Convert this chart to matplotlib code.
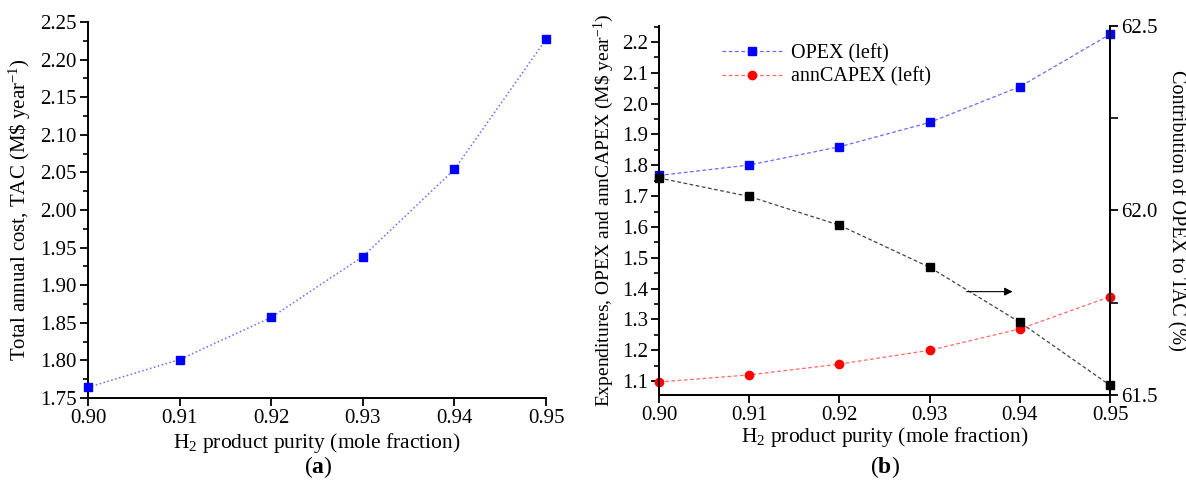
import numpy as np
import matplotlib.pyplot as plt
from matplotlib.ticker import MultipleLocator

plt.rcParams['font.family'] = ['Liberation Serif', 'DejaVu Serif']
plt.rcParams['mathtext.fontset'] = 'custom'
plt.rcParams['mathtext.rm'] = 'Liberation Serif'
plt.rcParams['mathtext.it'] = 'Liberation Serif:italic'
plt.rcParams['mathtext.bf'] = 'Liberation Serif:bold'

# data
purity = [0.90, 0.91, 0.92, 0.93, 0.94, 0.95]
tac = [1.764, 1.801, 1.857, 1.938, 2.054, 2.227]
opex = [1.767, 1.801, 1.860, 1.939, 2.055, 2.225]
ann_capex = [1.097, 1.120, 1.155, 1.200, 1.269, 1.374]
opex_share = [62.088, 62.038, 61.960, 61.846, 61.697, 61.526]


def style_axis(ax):
    ax.tick_params(direction='out', width=1.3, length=6, labelsize=15, pad=2)
    ax.tick_params(which='minor', direction='out', width=1.2, length=3.5)
    for s in ax.spines.values():
        s.set_linewidth(1.4)


fig = plt.figure(figsize=(11.86, 4.90), dpi=100)

# (a) total annual cost
ax1 = fig.add_axes([0.0742, 0.188, 0.3862, 0.767])
ax1.plot(purity, tac, color='#6a6aff', ls=':', lw=1.1, marker='s', ms=6,
         mfc='blue', mec='blue', clip_on=False, zorder=3)
ax1.set_xlim(0.90, 0.95)
ax1.set_ylim(1.75, 2.25)
ax1.set_xticks(purity)
ax1.set_xticklabels(['%.2f' % p for p in purity])
ax1.yaxis.set_major_locator(MultipleLocator(0.05))
ax1.yaxis.set_minor_locator(MultipleLocator(0.025))
ax1.yaxis.set_major_formatter(plt.FormatStrFormatter('%.2f'))
ax1.spines['top'].set_visible(False)
ax1.spines['right'].set_visible(False)
style_axis(ax1)
ax1.set_xlabel('H$_2$ product purity (mole fraction)', fontsize=15.5, labelpad=2)
ax1.set_ylabel('Total annual cost, TAC (M\\$ year$^{-1}$)', fontsize=15, labelpad=5)

# (b) expenditures and OPEX contribution
ax2 = fig.add_axes([0.5556, 0.194, 0.3804, 0.753])
ax2.plot(purity, opex, color='#6a6aff', ls='--', lw=0.9, dashes=(3, 2),
         marker='s', ms=6, mfc='blue', mec='blue', clip_on=False, zorder=3,
         label='OPEX (left)')
ax2.plot(purity, ann_capex, color='#ff6a6a', ls='--', lw=0.9, dashes=(3, 2),
         marker='o', ms=6, mfc='red', mec='red', clip_on=False, zorder=3,
         label='annCAPEX (left)')
ax2.set_xlim(0.90, 0.95)
ax2.set_ylim(1.055, 2.252)
ax2.set_xticks(purity)
ax2.set_xticklabels(['%.2f' % p for p in purity])
ax2.yaxis.set_major_locator(MultipleLocator(0.1))
ax2.yaxis.set_minor_locator(MultipleLocator(0.05))
ax2.yaxis.set_major_formatter(plt.FormatStrFormatter('%.1f'))
ax2.spines['top'].set_visible(False)
style_axis(ax2)
ax2.set_xlabel('H$_2$ product purity (mole fraction)', fontsize=15.5, labelpad=0)
ax2.set_ylabel('Expenditures, OPEX and annCAPEX (M\\$ year$^{-1}$)', fontsize=14,
               labelpad=4)
ax2.legend(loc='upper left', bbox_to_anchor=(0.1, 1.0), frameon=False,
           fontsize=14.5, handlelength=3.0, labelspacing=0.2, handletextpad=0.4)

ax3 = ax2.twinx()
ax3.plot(purity, opex_share, color='#444444', ls='--', lw=0.9, dashes=(3, 2),
         marker='s', ms=6, mfc='black', mec='black', clip_on=False, zorder=3)
ax3.set_ylim(61.5, 62.5)
ax3.yaxis.set_major_locator(MultipleLocator(0.5))
ax3.yaxis.set_minor_locator(MultipleLocator(0.25))
ax3.yaxis.set_major_formatter(plt.FormatStrFormatter('%.1f'))
ax3.spines['top'].set_visible(False)
style_axis(ax3)
ax3.tick_params(which='minor', length=6)
ax3.set_ylabel('Contribution of OPEX to TAC (%)', fontsize=14.5, rotation=270,
               labelpad=20)
ax3.annotate('', xy=(0.9395, 61.78), xytext=(0.9338, 61.78),
             arrowprops=dict(arrowstyle='-|>', color='black', lw=0.8,
                             mutation_scale=12))

fig.text(0.268, 0.047, r'($\mathbf{a}$)', ha='center', va='center', fontsize=17)
fig.text(0.746, 0.047, r'($\mathbf{b}$)', ha='center', va='center', fontsize=17)

fig.savefig('out.png', dpi=100)
